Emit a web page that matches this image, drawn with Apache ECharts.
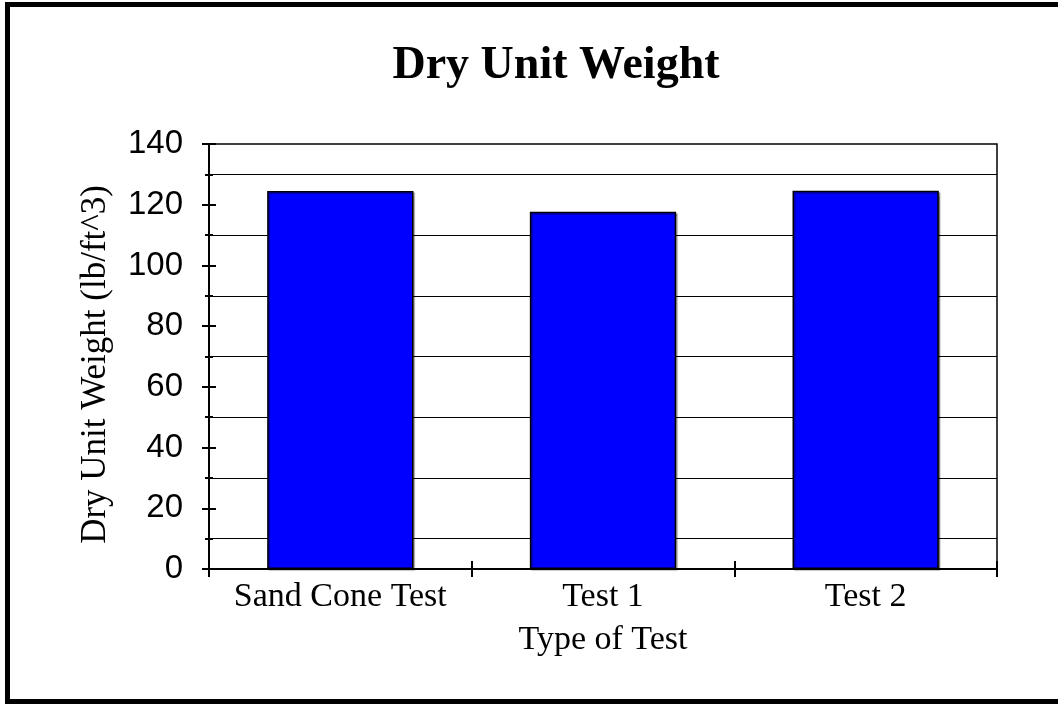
<!DOCTYPE html>
<html>
<head>
<meta charset="utf-8">
<script src="https://cdn.jsdelivr.net/npm/echarts@6/dist/echarts.min.js"></script>
<style>
html,body{margin:0;padding:0;background:#fff;}
#chart{width:1058px;height:704px;}
</style>
</head>
<body>
<div id="chart"></div>
<script>
var categories = ['Sand Cone Test', 'Test 1', 'Test 2'];
var dryUnitWeight = [124.5, 117.7, 124.6];
var chartTitle = 'Dry Unit Weight';
var xAxisTitle = 'Type of Test';
var yAxisTitle = 'Dry Unit Weight (lb/ft^3)';

var chart = echarts.init(document.getElementById('chart'));
var serif = '"Liberation Serif", "Times New Roman", serif';
var sans = '"Liberation Sans", Arial, sans-serif';

var baseY = {
  type: 'value', min: 0, max: 140, interval: 20, position: 'left',
  axisLine: {show: true, onZero: false, lineStyle: {color: '#000', width: 2}},
  splitLine: {show: false}
};

var option = {
  animation: false,
  backgroundColor: '#fff',
  title: {
    text: chartTitle,
    left: 551, textAlign: 'center', top: 38,
    textStyle: {fontFamily: serif, fontWeight: 'bold', fontSize: 46, color: '#000'}
  },
  grid: {left: 209, top: 144, right: 61, bottom: 135, show: true, borderColor: '#000', borderWidth: 1.5, backgroundColor: 'transparent'},
  xAxis: [{
    type: 'category', data: categories, position: 'bottom',
    axisLine: {show: true, lineStyle: {color: '#000', width: 2}},
    axisTick: {show: true, inside: false, length: 8, lineStyle: {color: '#000', width: 2}},
    axisLabel: {fontFamily: serif, fontSize: 34, color: '#000', margin: 11, interval: 0, hideOverlap: false},
    name: xAxisTitle, nameLocation: 'middle', nameGap: 54,
    nameTextStyle: {fontFamily: serif, fontSize: 34, color: '#000'}
  }, {
    type: 'category', data: categories, position: 'bottom',
    axisLine: {show: false},
    axisTick: {show: true, inside: true, length: 8, lineStyle: {color: '#000', width: 2}},
    axisLabel: {show: false}
  }],
  yAxis: [Object.assign({}, baseY, {
    axisTick: {show: true, inside: false, length: 7, lineStyle: {color: '#000', width: 2}},
    minorTick: {show: true, splitNumber: 2, length: 4, lineStyle: {color: '#000', width: 2}},
    minorSplitLine: {show: true, lineStyle: {color: '#000', width: 1}},
    axisLabel: {fontFamily: sans, fontSize: 33, color: '#000', margin: 26},
    name: yAxisTitle, nameLocation: 'middle', nameGap: 96, nameRotate: 90,
    nameTextStyle: {fontFamily: serif, fontSize: 35, color: '#000', padding: [0, 16, 0, 0]}
  }), Object.assign({}, baseY, {
    axisTick: {show: true, inside: true, length: 7, lineStyle: {color: '#000', width: 2}},
    minorTick: {show: true, splitNumber: 2, length: 4, lineStyle: {color: '#000', width: 2}},
    axisLabel: {show: false}
  })],
  series: [{
    type: 'bar', data: dryUnitWeight, barWidth: '55.7%',
    xAxisIndex: 0, yAxisIndex: 0,
    itemStyle: {color: '#0000ff', borderColor: '#000', borderWidth: 1.5,
      shadowColor: 'rgba(0,0,0,0.35)', shadowOffsetX: 1.5, shadowOffsetY: 1.5, shadowBlur: 1}
  }],
  graphic: [{
    type: 'rect', silent: true, z: 100,
    shape: {x: 7.5, y: 4.5, width: 1100, height: 697},
    style: {fill: 'none', stroke: '#000', lineWidth: 5}
  }]
};
chart.setOption(option);
</script>
</body>
</html>
